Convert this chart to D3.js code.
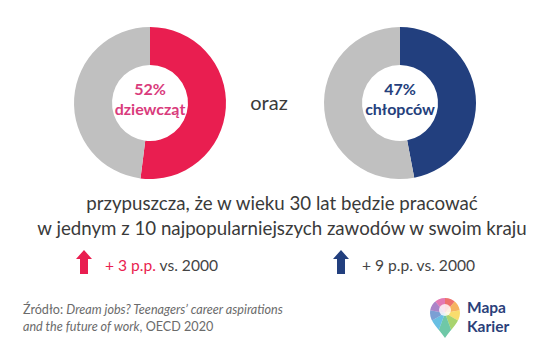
<!DOCTYPE html>
<html>
<head>
<meta charset="utf-8">
<script src="https://cdn.jsdelivr.net/npm/d3@7"></script>
<style>
  body { margin: 0; background: #fff; }
  svg { display: block; font-family: Lato, "Open Sans", sans-serif; }
</style>
</head>
<body>
<svg width="555" height="361"></svg>
<script>
// share who expects to work in one of top-10 jobs
var groups = ["dziewcząt", "chłopców"];
var shares = [52, 47];
var changes = [3, 9];
var baseYear = 2000;
var colors = ["#E91E50", "#223F7E"];
var labelColors = ["#D93B7C", "#253F7C"];
var logoColors = ["#E8413C", "#F39A2B", "#F7D23C", "#8CC63F", "#3FB58A", "#35A9D9", "#4F7FC6", "#8E5BB5", "#D94C9B"];

var svg = d3.select("svg");
var width = 555;

var xPos = d3.scalePoint().domain(groups).range([150, 400]);
var arc = d3.arc().innerRadius(38).outerRadius(76);
var pie = d3.pie().sort(null).value(d => d);

groups.forEach(function(name, i) {
    var g = svg.append("g").attr("transform", "translate(" + xPos(name) + ",103)");
    g.selectAll("path")
        .data(pie([shares[i], 100 - shares[i]]))
        .enter().append("path")
        .attr("d", arc)
        .attr("fill", (d, j) => j == 0 ? colors[i] : "#C0C0C0");

    g.append("text")
        .attr("text-anchor", "middle")
        .attr("y", -8)
        .attr("font-size", 16)
        .attr("font-weight", "bold")
        .attr("fill", labelColors[i])
        .text(shares[i] + "%");
    g.append("text")
        .attr("text-anchor", "middle")
        .attr("y", 12)
        .attr("font-size", 16)
        .attr("font-weight", "bold")
        .attr("fill", labelColors[i])
        .text(name);
});

svg.append("text")
    .attr("x", 269).attr("y", 110)
    .attr("text-anchor", "middle")
    .attr("font-size", 20)
    .attr("fill", "#3a3a3a")
    .text("oraz");

// main caption
var lines = ["przypuszcza, że w wieku 30 lat będzie pracować",
             "w jednym z 10 najpopularniejszych zawodów w swoim kraju"];
svg.selectAll(".cap")
    .data(lines)
    .enter().append("text")
    .attr("class", "cap")
    .attr("x", 282)
    .attr("y", (d, i) => 210 + i * 25)
    .attr("text-anchor", "middle")
    .attr("font-size", 18.7)
    .attr("fill", "#3a3a3a")
    .text(d => d);

// arrows with change vs base year
var arrowX = [84, 341];
changes.forEach(function(c, i) {
    var g = svg.append("g").attr("transform", "translate(" + arrowX[i] + ",250)");
    g.append("path")
        .attr("d", "M0,0 L8,9 L4,9 L4,24 L-4,24 L-4,9 L-8,9 Z")
        .attr("fill", colors[i]);
    var t = g.append("text")
        .attr("x", 21).attr("y", 21)
        .attr("font-size", 15.6)
        .attr("fill", "#444");
    t.append("tspan")
        .attr("fill", i == 0 ? colors[0] : "#444")
        .text("+ " + c + " p.p.");
    t.append("tspan").text(" vs. " + baseYear);
});

// source
var src = svg.append("g").attr("font-size", 12.6).attr("fill", "#6b6b6b");
var s1 = src.append("text").attr("x", 23).attr("y", 314);
s1.append("tspan").text("Źródło: ");
s1.append("tspan").attr("font-style", "italic").text("Dream jobs? Teenagers’ career aspirations");
var s2 = src.append("text").attr("x", 23).attr("y", 331);
s2.append("tspan").attr("font-style", "italic").text("and the future of work");
s2.append("tspan").text(", OECD 2020");

// logo
var logo = svg.append("g").attr("transform", "translate(445,313)");
var pinPath = "M0,-15 C9,-15 15,-8 15,0 C15,9 6,16 0,25 C-6,16 -15,9 -15,0 C-15,-8 -9,-15 0,-15 Z";
svg.append("clipPath").attr("id", "pin").append("path").attr("d", pinPath);
var logoArc = d3.arc().innerRadius(0).outerRadius(30);
logo.append("g").attr("clip-path", "url(#pin)")
    .selectAll("path")
    .data(d3.pie().sort(null).value(1)(logoColors))
    .enter().append("path")
    .attr("d", logoArc)
    .attr("fill", d => d.data)
    .attr("opacity", 0.75);
logo.append("circle").attr("r", 6).attr("cy", -3).attr("fill", "#fff").attr("opacity", 0.8);

var brand = svg.append("g").attr("font-size", 15.5).attr("font-weight", "bold").attr("fill", "#2B3F7A");
brand.append("text").attr("x", 467).attr("y", 313).text("Mapa");
brand.append("text").attr("x", 467).attr("y", 332).text("Karier");
</script>
</body>
</html>
